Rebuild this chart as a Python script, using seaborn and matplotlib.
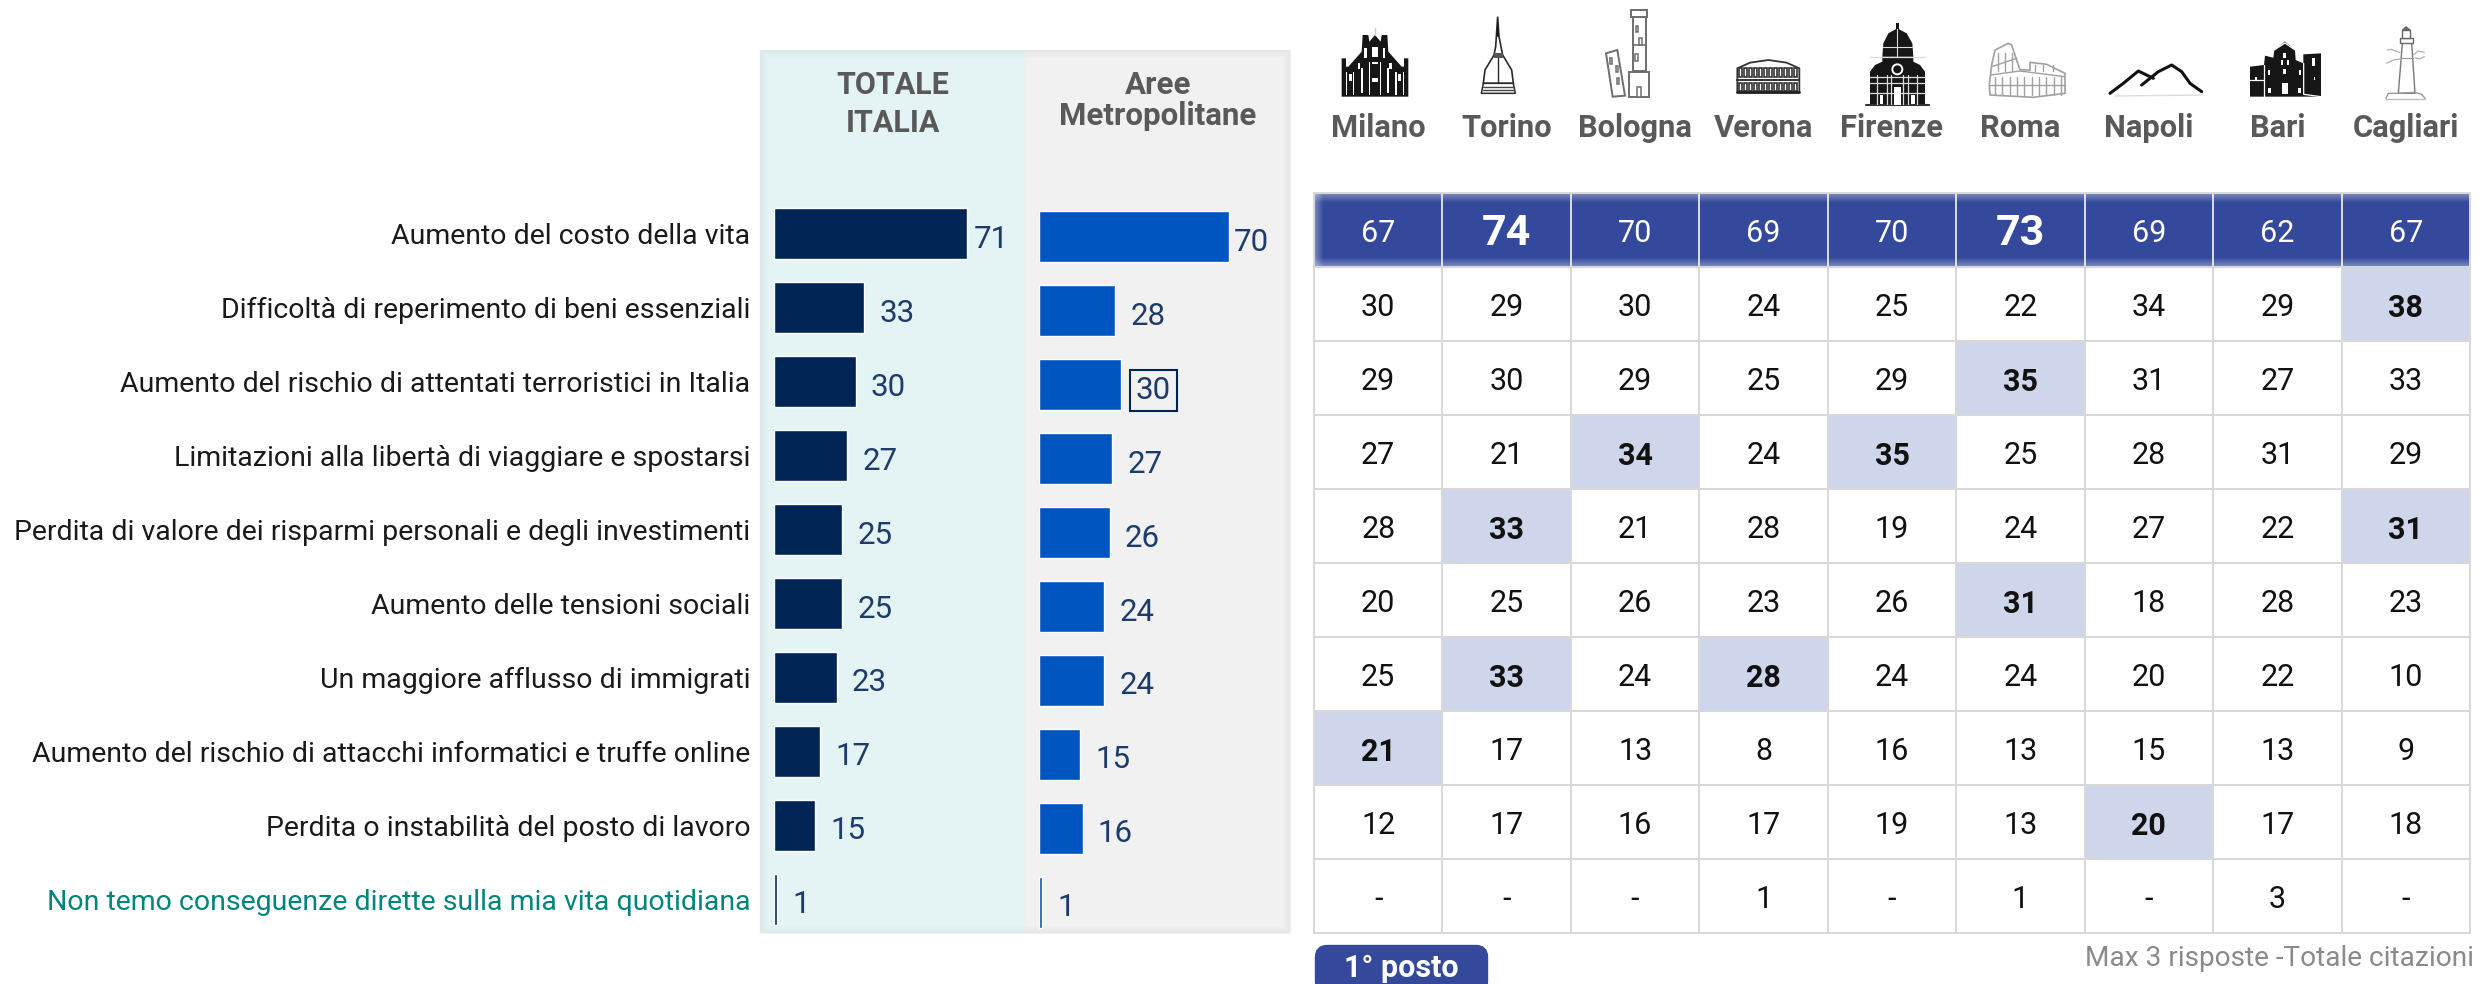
import numpy as np
import pandas as pd
import matplotlib
matplotlib.use('Agg')
import matplotlib.pyplot as plt
from matplotlib.colors import ListedColormap
from matplotlib.patches import Rectangle, Polygon, Circle, FancyBboxPatch
import seaborn as sns

W, H = 2479, 984

categories = [
    'Aumento del costo della vita',
    'Difficoltà di reperimento di beni essenziali',
    'Aumento del rischio di attentati terroristici in Italia',
    'Limitazioni alla libertà di viaggiare e spostarsi',
    'Perdita di valore dei risparmi personali e degli investimenti',
    'Aumento delle tensioni sociali',
    'Un maggiore afflusso di immigrati',
    'Aumento del rischio di attacchi informatici e truffe online',
    'Perdita o instabilità del posto di lavoro',
    'Non temo conseguenze dirette sulla mia vita quotidiana',
]
totale_italia = [71, 33, 30, 27, 25, 25, 23, 17, 15, 1]
aree_metro = [70, 28, 30, 27, 26, 24, 24, 15, 16, 1]

cities = ['Milano', 'Torino', 'Bologna', 'Verona', 'Firenze', 'Roma', 'Napoli', 'Bari', 'Cagliari']
city_values = [
    ['67', '74', '70', '69', '70', '73', '69', '62', '67'],
    ['30', '29', '30', '24', '25', '22', '34', '29', '38'],
    ['29', '30', '29', '25', '29', '35', '31', '27', '33'],
    ['27', '21', '34', '24', '35', '25', '28', '31', '29'],
    ['28', '33', '21', '28', '19', '24', '27', '22', '31'],
    ['20', '25', '26', '23', '26', '31', '18', '28', '23'],
    ['25', '33', '24', '28', '24', '24', '20', '22', '10'],
    ['21', '17', '13', '8', '16', '13', '15', '13', '9'],
    ['12', '17', '16', '17', '19', '13', '20', '17', '18'],
    ['-', '-', '-', '1', '-', '1', '-', '3', '-'],
]
# cells marked as first place (row, column)
first_place = [(0, 1), (0, 5), (1, 8), (2, 5), (3, 2), (3, 4), (4, 1), (4, 8),
               (5, 5), (6, 1), (6, 3), (7, 0), (8, 6)]

NAVY = '#002554'
BLUE = '#0055c0'
LABEL = '#1d3b6b'
HEADER = '#34499b'
HIGHLIGHT = '#cfd6eb'
GREY_TEXT = '#595959'
TEAL = '#00857c'
FONT = 'Roboto'

sns.set_theme(style='white')
plt.rcParams['font.family'] = [FONT, 'DejaVu Sans']


def px_axes(fig, x0, y0, x1, y1, **kw):
    return fig.add_axes([x0 / W, 1 - y1 / H, (x1 - x0) / W, (y1 - y0) / H], **kw)


def bar_panel(fig, values, color, x0, y_shift, paddings):
    ax = px_axes(fig, x0, 197 + y_shift, x0 + 250, 936 + y_shift, zorder=1)
    df = pd.DataFrame({'cat': categories, 'val': values})
    sns.barplot(data=df, x='val', y='cat', color=color, saturation=1, width=0.69, ax=ax)
    ax.set_xlim(0, 250 / 2.72)
    ax.set_ylim(9.5, -0.5)
    ax.patch.set_alpha(0)
    ax.set_xlabel('')
    ax.set_ylabel('')
    ax.set_xticks([])
    sns.despine(ax=ax, left=True, bottom=True)
    for i, v in enumerate(values):
        ax.annotate(str(v), (v, i), xytext=(paddings[i], -4), textcoords='offset points',
                    va='center', ha='left', fontsize=22.5, color=LABEL)
    return ax


def draw_icons(ax):
    # icon outlines are written in 1/3 pixel units from an origin, z=4 is detail over the fill
    def poly(x0, y0, pts, fc='white', ec='none', lw=1.0, z=3):
        ax.add_patch(Polygon([(x0 + a / 3, y0 + b / 3) for a, b in pts], fc=fc, ec=ec, lw=lw, zorder=z))

    def rects(x0, y0, items, fc='white', ec='none', lw=1.0, z=4):
        for a, b, w, h in items:
            ax.add_patch(Rectangle((x0 + a / 3, y0 + b / 3), w / 3, h / 3, fc=fc, ec=ec, lw=lw, zorder=z))

    def line(x0, y0, pts, color, lw=1.0, z=4):
        ax.plot([x0 + a / 3 for a, b in pts], [y0 + b / 3 for a, b in pts], color=color, lw=lw, zorder=z,
                solid_capstyle='round')

    dark = '#161616'
    mid = '#6e6e6e'
    light = '#a0a0a0'

    # Milano
    x0, y0 = 1320, 5
    poly(x0, y0, [(65, 275), (65, 160), (78, 160), (78, 185), (85, 185), (125, 140), (128, 90), (145, 90),
                  (148, 110), (165, 90), (182, 110), (185, 90), (202, 90), (205, 140), (245, 185), (252, 185),
                  (252, 160), (265, 160), (265, 275)], fc=dark)
    line(x0, y0, [(165, 70), (165, 90)], '#cccccc', 1)
    rects(x0, y0, [(78, 200, 4, 70), (98, 200, 5, 70), (122, 190, 6, 75), (146, 170, 4, 100), (180, 170, 4, 100),
                   (202, 190, 6, 75), (226, 200, 5, 70), (248, 200, 4, 70), (157, 125, 16, 30), (133, 130, 8, 28),
                   (188, 130, 8, 28), (88, 208, 8, 20), (113, 175, 8, 18), (208, 175, 8, 18), (234, 208, 8, 20),
                   (155, 220, 20, 12), (155, 172, 20, 6)])
    # Torino
    poly(x0, y0, [(533, 35), (537, 95), (543, 125), (548, 150), (575, 195), (580, 235), (490, 235), (495, 195),
                  (522, 150), (527, 125), (529, 95)], fc='white', ec='#2a2a2a', lw=1.2)
    poly(x0, y0, [(533, 35), (537, 95), (529, 95)], fc=dark)
    rects(x0, y0, [(522, 145, 26, 14)], fc='#555555', z=4)
    line(x0, y0, [(535, 160), (535, 235)], '#2a2a2a', 1)
    poly(x0, y0, [(490, 235), (580, 235), (586, 265), (484, 265)], fc='white', ec='#2a2a2a', lw=1.1)
    for yy in (245, 255):
        line(x0, y0, [(488, yy), (583, yy)], '#444444', 1)
    # Bologna
    rects(x0, y0, [(940, 37, 38, 160), (928, 200, 58, 75), (933, 15, 48, 22)], ec=mid, lw=1.4, z=3)
    poly(x0, y0, [(858, 145), (892, 135), (915, 272), (878, 275)], ec=mid, lw=1.4)
    line(x0, y0, [(940, 120), (978, 120)], mid, 1.2)
    rects(x0, y0, [(947, 62, 8, 20), (958, 100, 8, 20), (945, 148, 8, 20), (870, 160, 7, 18), (888, 182, 7, 18),
                   (890, 218, 7, 18), (950, 245, 14, 30)], ec=mid, lw=1.1)

    # Verona
    x0, y0 = 1700, 15
    poly(x0, y0, [(112, 160), (150, 143), (205, 135), (260, 143), (298, 160), (298, 232), (112, 232)],
         ec='#333333', lw=1.3)
    rects(x0, y0, [(a, 158, 8, 28) for a in range(118, 292, 15)], fc='white', ec='#333333', lw=1.2)
    rects(x0, y0, [(a, 203, 8, 26) for a in range(118, 292, 15)], fc='white', ec='#333333', lw=1.2)
    line(x0, y0, [(112, 195), (298, 195)], '#333333', 1.4)
    line(x0, y0, [(112, 232), (298, 232)], '#222222', 2)
    # Firenze
    poly(x0, y0, [(547, 125), (550, 85), (565, 55), (592, 40), (620, 55), (637, 85), (640, 125)], fc=dark)
    rects(x0, y0, [(587, 25, 10, 20)], fc=dark, z=3)
    poly(x0, y0, [(510, 270), (510, 170), (525, 150), (547, 140), (547, 125), (640, 125), (640, 140), (660, 150),
                  (675, 170), (675, 270)], fc=dark)
    line(x0, y0, [(498, 270), (688, 270)], '#333333', 1.5)
    for a in (532, 560, 574, 610, 624, 652):
        line(x0, y0, [(a, 180), (a, 268)], '#dddddd', 0.9)
    for b in (125, 185, 205, 235):
        line(x0, y0, [(510, b), (675, b)], '#dddddd', 0.9)
    line(x0, y0, [(592, 42), (592, 125)], '#dddddd', 0.8)
    line(x0, y0, [(550, 95), (636, 95)], '#dddddd', 0.8)
    ax.add_patch(Circle((x0 + 592 / 3, y0 + 163 / 3), 5, fc='none', ec='white', lw=1.4, zorder=4))
    rects(x0, y0, [(582, 215, 22, 55), (540, 240, 10, 28), (634, 240, 10, 28)])
    # Roma
    poly(x0, y0, [(870, 240), (868, 210), (875, 150), (885, 105), (925, 85), (935, 90), (960, 165), (990, 165),
                  (990, 142), (1040, 148), (1095, 175), (1095, 235), (1000, 247)], ec=light, lw=1.2)
    line(x0, y0, [(875, 155), (950, 130)], light, 1)
    line(x0, y0, [(872, 180), (960, 168), (1095, 185)], light, 1)
    line(x0, y0, [(868, 210), (1095, 210)], light, 1)
    for a in range(885, 1090, 22):
        line(x0, y0, [(a, 185), (a, 240)], light, 1)
    for a in (895, 915, 935, 1005, 1030, 1060):
        line(x0, y0, [(a, 115 if a < 940 else 150), (a, 168)], light, 1)

    # Napoli
    x0, y0 = 2090, 15
    line(x0, y0, [(60, 235), (100, 205), (145, 168), (190, 190)], '#111111', 2.2)
    line(x0, y0, [(155, 210), (205, 170), (245, 150), (275, 170), (300, 205), (335, 230)], '#111111', 2.2)
    line(x0, y0, [(75, 243), (340, 240)], '#dddddd', 1)
    # Bari
    poly(x0, y0, [(480, 245), (480, 155), (522, 150), (525, 122), (550, 128), (553, 105), (585, 80), (615, 105),
                  (617, 135), (640, 145), (640, 118), (693, 115), (693, 245)], fc=dark)
    rects(x0, y0, [(580, 115, 8, 15), (572, 135, 6, 15), (592, 135, 6, 15), (580, 162, 7, 15), (535, 165, 6, 15),
                   (628, 165, 6, 15), (665, 130, 10, 22), (495, 185, 6, 10), (575, 205, 20, 32), (535, 220, 8, 15),
                   (625, 220, 8, 15), (671, 185, 4, 10)])
    line(x0, y0, [(521, 150), (521, 245)], 'white', 0.9)
    line(x0, y0, [(641, 145), (641, 238), (693, 245)], 'white', 0.9)
    line(x0, y0, [(480, 195), (521, 195)], 'white', 0.9)
    line(x0, y0, [(553, 105), (585, 84), (615, 105)], 'white', 0.9)
    # Cagliari
    poly(x0, y0, [(925, 235), (937, 85), (965, 85), (975, 235)], ec='#777777', lw=1)
    rects(x0, y0, [(930, 70, 38, 14), (937, 45, 24, 25)], ec='#666666', lw=1)
    poly(x0, y0, [(935, 45), (948, 33), (963, 45)], fc='#666666')
    line(x0, y0, [(933, 130), (969, 130)], '#999999', 0.8)
    line(x0, y0, [(892, 105), (905, 103), (915, 108), (930, 112)], '#b0b0b0', 0.9)
    line(x0, y0, [(890, 145), (910, 135), (932, 132)], '#b0b0b0', 0.9)
    line(x0, y0, [(970, 120), (985, 108), (1003, 112)], '#b0b0b0', 0.9)
    line(x0, y0, [(975, 128), (990, 132), (1003, 125)], '#b0b0b0', 0.9)
    line(x0, y0, [(888, 250), (895, 235), (925, 235), (975, 232), (995, 238), (1005, 250)], '#999999', 1)
    line(x0, y0, [(888, 252), (1005, 252)], '#b8b8b8', 0.9)


fig = plt.figure(figsize=(W / 100, H / 100), dpi=100, facecolor='white')

back = px_axes(fig, 0, 0, W, H, zorder=0)
back.set_xlim(0, W)
back.set_ylim(H, 0)
back.axis('off')
back.add_patch(Rectangle((760, 50), 265, 883, fc='#e4f4f4', ec='none'))
back.add_patch(Rectangle((1025, 50), 265, 883, fc='#f1f1f1', ec='none'))
for k in range(7):
    back.add_patch(Rectangle((760 + k, 50 + k), 530 - 2 * k, 883 - 2 * k, fc='none', ec='#cccccc',
                             lw=1, alpha=0.21 - k * 0.03))

back.text(893, 85, 'TOTALE', ha='center', va='center', fontsize=22, fontweight='bold', color=GREY_TEXT)
back.text(893, 123, 'ITALIA', ha='center', va='center', fontsize=22, fontweight='bold', color=GREY_TEXT)
back.text(1158, 85, 'Aree', ha='center', va='center', fontsize=22.5, fontweight='bold', color=GREY_TEXT)
back.text(1158, 116, 'Metropolitane', ha='center', va='center', fontsize=22.5, fontweight='bold', color=GREY_TEXT)

cell_w = (2470 - 1314) / len(cities)
for j, city in enumerate(cities):
    back.text(1314 + cell_w * (j + 0.5), 128, city, ha='center', va='center', fontsize=22.2,
              fontweight='bold', color=GREY_TEXT)
draw_icons(back)

back.add_patch(FancyBboxPatch((1319, 949), 165, 40, boxstyle='round,pad=0,rounding_size=8', fc=HEADER, ec=HEADER, lw=6))
back.text(1401, 968, '1° posto', ha='center', va='center', fontsize=22, fontweight='bold', color='white')
back.text(2474, 959, 'Max 3 risposte -Totale citazioni', ha='right', va='center', fontsize=20.2, color='#8a8a8a')

ax_it = bar_panel(fig, totale_italia, NAVY, 774, 0, [5] + [11] * 9)
ax_it.tick_params(axis='y', length=0, pad=17, labelsize=20.5)
for lab in ax_it.get_yticklabels():
    lab.set_color('#1a1a1a')
ax_it.get_yticklabels()[-1].set_color(TEAL)

ax_me = bar_panel(fig, aree_metro, BLUE, 1039, 3, [3] + [11] * 9)
ax_me.set_yticks([])
ax_me.texts[2].set_bbox(dict(boxstyle='square,pad=0.2', fc='none', ec=NAVY, lw=1.5))

# cell colours: 0 white, 1 first place, 2 all-items row
cell_kind = np.zeros((len(categories), len(cities)))
cell_kind[0, :] = 2
for r, c in first_place:
    if r > 0:
        cell_kind[r, c] = 1

ax_t = px_axes(fig, 1314, 193, 2470, 933, zorder=1)
sns.heatmap(cell_kind, annot=np.array(city_values), fmt='', cbar=False, vmin=0, vmax=2,
            cmap=ListedColormap(['white', HIGHLIGHT, HEADER]), linewidths=1.3, linecolor='#d8d8d8',
            annot_kws={'fontsize': 22, 'color': '#111111'}, xticklabels=False, yticklabels=False, ax=ax_t)
for side in ax_t.spines.values():
    side.set_visible(True)
    side.set_color('#d8d8d8')
    side.set_linewidth(1.3)
n_cols = len(cities)
for k, t in enumerate(ax_t.texts):
    r, c = divmod(k, n_cols)
    px, py = t.get_position()
    t.set_position((px, py + 0.05))
    if r == 0:
        t.set_color('white')
    if (r, c) in first_place:
        t.set_fontweight('bold')
        if r == 0:
            t.set_fontsize(31)

# soft edge of the top row
front = px_axes(fig, 0, 0, W, H, zorder=2)
front.set_xlim(0, W)
front.set_ylim(H, 0)
front.axis('off')
for k in range(8):
    a = 0.32 - k * 0.04
    front.add_patch(Rectangle((1315, 194 + k), 1154, 1, fc='white', ec='none', alpha=a))
    front.add_patch(Rectangle((1315, 265 - k), 1154, 1, fc='white', ec='none', alpha=a))
    front.add_patch(Rectangle((1315 + k, 194), 1, 72, fc='white', ec='none', alpha=a))

fig.savefig('out.png', dpi=100)
